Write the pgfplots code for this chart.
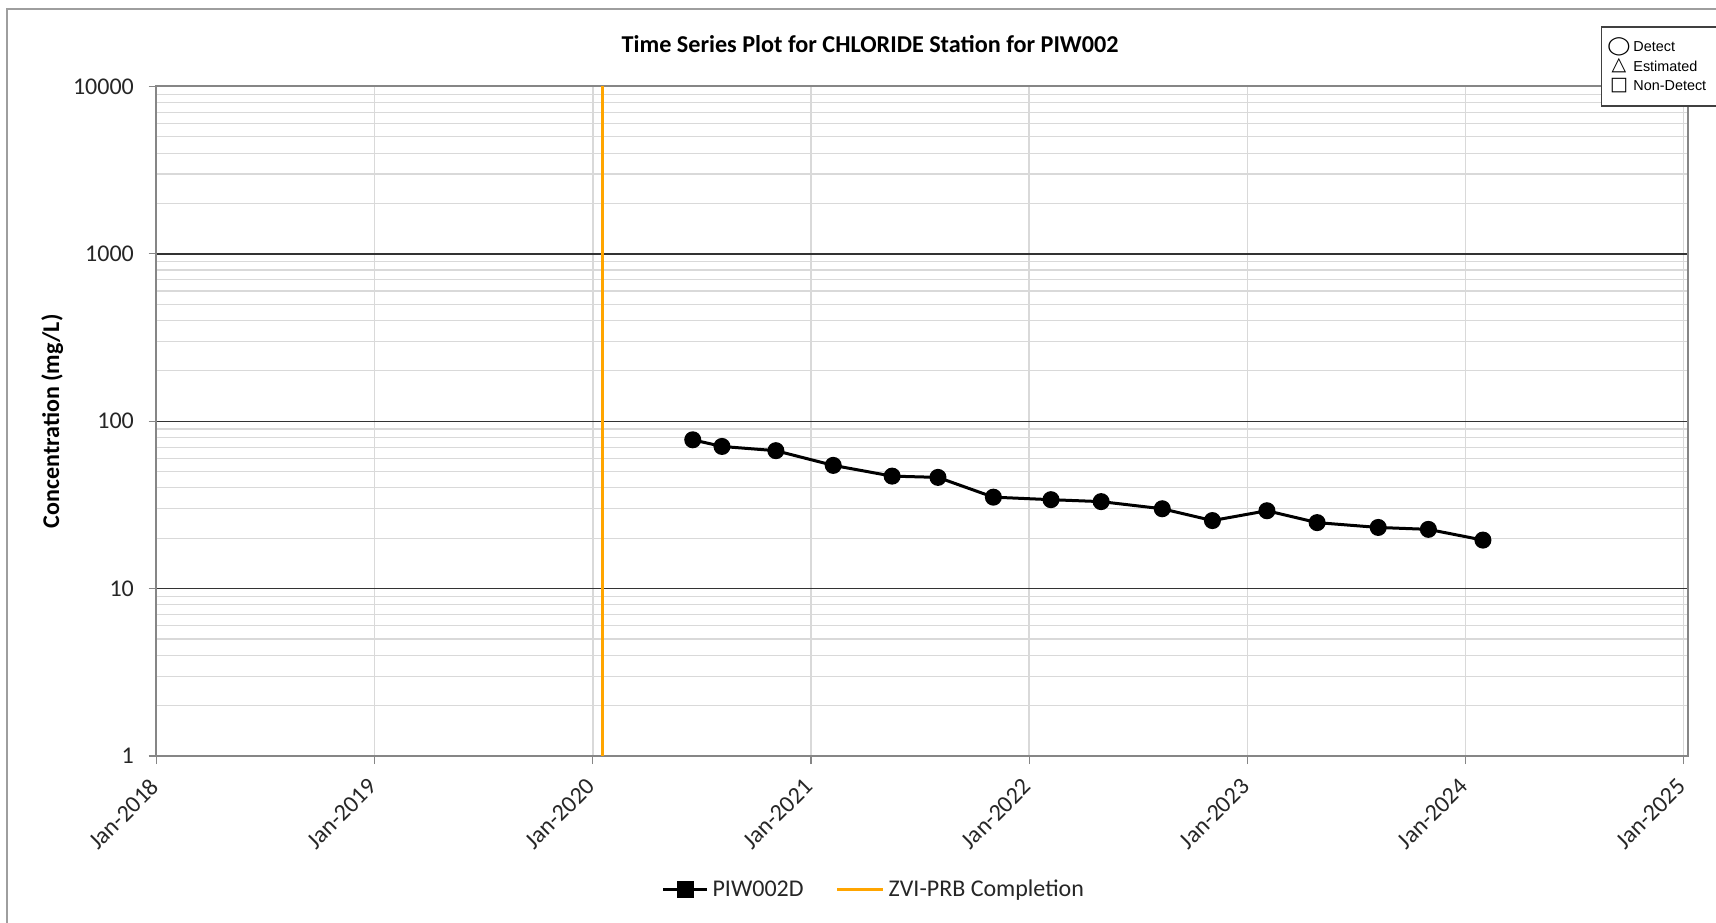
\documentclass[border=0pt]{standalone}
\usepackage{pgfplots}
\pgfplotsset{compat=1.18}
\usepackage{fontspec}
\setmainfont{Carlito}
\newfontfamily\symfont{DejaVu Sans}
\newfontfamily\legfont{Liberation Sans}
\definecolor{zvi}{RGB}{255,165,0}
\definecolor{gridlt}{RGB}{217,217,217}
\definecolor{axgray}{RGB}{134,134,134}
\pgfplotstableread{
x y
2020.458 77.5
2020.592 70.7
2020.839 66.7
2021.102 54.5
2021.372 47.0
2021.582 46.2
2021.836 35.2
2022.100 34.0
2022.330 33.1
2022.610 30.0
2022.840 25.5
2023.090 29.2
2023.320 24.8
2023.600 23.2
2023.830 22.6
2024.080 19.5
}\piwdata
\begin{document}
\begin{tikzpicture}
\useasboundingbox (0,0) rectangle (858pt,461pt);
\draw[axgray!80, line width=0.8pt] (3.5pt,-5pt) -- (3.5pt,456.5pt) -- (870pt,456.5pt);
\begin{axis}[
  at={(78.25pt,83pt)}, anchor=south west,
  scale only axis, width=765.75pt, height=334.75pt,
  ymode=log, ymin=1, ymax=10000,
  xmin=2018, xmax=2025.02,
  xtick={2018,2019,2020,2021,2022,2023,2024,2025},
  xticklabels={Jan-2018,Jan-2019,Jan-2020,Jan-2021,Jan-2022,Jan-2023,Jan-2024,Jan-2025},
  ytick={1,10,100,1000,10000},
  yticklabels={1,10,100,1000,10000},
  /pgf/number format/assume math mode=true,
  tick align=outside, ytick pos=left, xtick pos=bottom,
  major tick length=4pt, minor tick length=0pt,
  tick style={axgray, line width=0.6pt},
  axis line style={axgray, line width=1pt},
  xmajorgrids=true, ymajorgrids=true, yminorgrids=true,
  x grid style={gridlt, line width=0.7pt},
  y grid style={black!80, line width=0.65pt},
  minor y grid style={gridlt, line width=0.6pt},
  yticklabel style={font=\fontsize{12}{12}\selectfont, text=black!85, xshift=-3.8pt},
  xticklabel style={xshift=-3.8pt, yshift=-1.6pt, font=\fontsize{12}{12}\selectfont, rotate=45, anchor=north east, text=black!85},
  title={\textbf{Time Series Plot for CHLORIDE Station for PIW002}},
  title style={at={(0.466,1.046)}, anchor=center, font=\fontsize{12.1}{13}\selectfont},
  ylabel={\textbf{Concentration (mg/L)}},
  ylabel style={at={(axis description cs:-0.068,0.5)}, anchor=center, font=\fontsize{12}{12}\selectfont},
  legend style={at={(0.469,-0.2)}, anchor=center, draw=none, legend columns=2,
    font=\fontsize{12}{12}\selectfont, text=black!85,
    /tikz/every even column/.append style={column sep=14pt}},
  legend image code/.code={\draw[#1] (0pt,0pt) -- (23pt,0pt);},
]
\addplot[zvi, line width=1.5pt, forget plot] coordinates {(2020.043,1) (2020.043,10000)};
\addplot[black, line width=1.5pt, mark=*, mark size=3.5pt,
  legend image code/.code={\draw[black, line width=1.5pt] (0pt,0pt) -- (22pt,0pt);
    \fill[black] (7.5pt,-3.5pt) rectangle (14.5pt,3.5pt);}]
  table[x=x,y=y] {\piwdata};
\addlegendentry{PIW002D}
\addlegendimage{zvi, line width=1.5pt}
\addlegendentry{ZVI-PRB Completion}
\end{axis}
\draw[black!75, line width=0.8pt, fill=white] (800.8pt,408pt) rectangle (870pt,447.5pt);
\node[font=\symfont\fontsize{9}{9}\selectfont, inner sep=0pt, xscale=1.15] at (809.5pt,437.6pt) {◯};
\node[font=\symfont\fontsize{9.5}{9.5}\selectfont, inner sep=0pt] at (809.5pt,428pt) {△};
\node[font=\symfont\fontsize{9.5}{9.5}\selectfont, inner sep=0pt] at (809.5pt,418.4pt) {□};
\node[font=\legfont\fontsize{7.2}{7.2}\selectfont, anchor=west, inner sep=0pt] at (816.5pt,437.6pt) {Detect};
\node[font=\legfont\fontsize{7.2}{7.2}\selectfont, anchor=west, inner sep=0pt] at (816.5pt,428pt) {Estimated};
\node[font=\legfont\fontsize{7.2}{7.2}\selectfont, anchor=west, inner sep=0pt] at (816.5pt,418.4pt) {Non-Detect};
\end{tikzpicture}
\end{document}
